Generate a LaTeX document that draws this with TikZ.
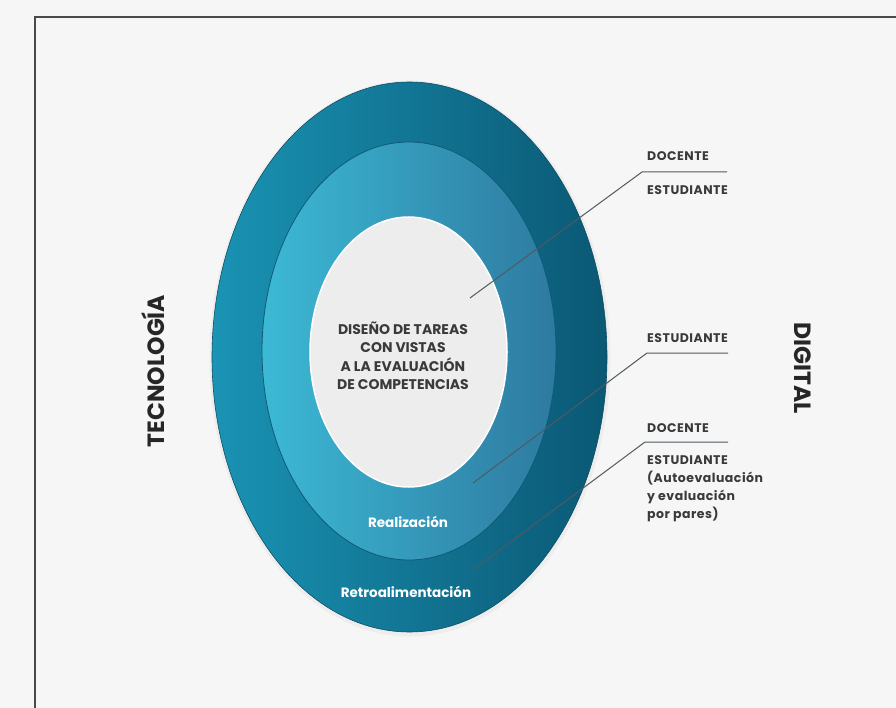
\documentclass[tikz,border=0pt]{standalone}
\usepackage{fontspec}
\setmainfont{Poppins}
\newfontfamily\lblfont{Poppins}[LetterSpace=4]
\usetikzlibrary{shapes.geometric}
\definecolor{bg}{HTML}{F6F6F6}
\definecolor{framec}{HTML}{4A4A4A}
\definecolor{outL}{HTML}{1A93B4}
\definecolor{outR}{HTML}{0A5874}
\definecolor{outE}{HTML}{0C4F66}
\definecolor{midL}{HTML}{3CB9D5}
\definecolor{midR}{HTML}{2E7AA0}
\definecolor{midE}{HTML}{105A74}
\definecolor{innerc}{HTML}{EDEDED}
\definecolor{txt}{HTML}{3A3A3A}
\definecolor{leadc}{HTML}{4F5A62}
\begin{document}
\begin{tikzpicture}[x=1pt,y=-1pt,
  ring/.style={ellipse, inner sep=0pt},
  lbl/.style={font=\lblfont\fontsize{12.5}{14}\selectfont\bfseries, text=txt, anchor=west, inner sep=0pt},
  lbls/.style={font=\lblfont\fontsize{12.5}{18}\selectfont\bfseries, text=txt, anchor=north west, inner sep=0pt, align=left},
  lead/.style={draw=leadc, line width=1pt},
  ringtxt/.style={font=\fontsize{13.5}{15}\selectfont\bfseries, text=white, inner sep=0pt},
  side/.style={font=\fontsize{23.5}{26}\selectfont\bfseries, text=black!85, inner sep=0pt}]
\fill[bg] (0,0) rectangle (896,708);
\useasboundingbox (0,0) rectangle (896,708);
\draw[framec, line width=2pt] (896,17) -- (35,17) -- (35,708);
% soft shadow
\node[ring, minimum width=401pt, minimum height=556pt, fill=black, opacity=0.035] (glow) at (410,358.5) {};
\node[ring, minimum width=395pt, minimum height=550pt, left color=outL, right color=outR, draw=outE, line width=0.6pt] (outer) at (409.5,357) {};
\node[ring, minimum width=294pt, minimum height=418pt, left color=midL, right color=midR, draw=midE, line width=0.8pt] (middle) at (409,351) {};
\node[ring, minimum width=197pt, minimum height=270pt, fill=innerc, draw=white, line width=1.5pt] (inner) at (408.5,352) {};
\node[font=\fontsize{14}{18.5}\selectfont\bfseries, text=txt, align=center, inner sep=0pt] (core) at (403,356) {DISEÑO DE TAREAS\\CON VISTAS\\A LA EVALUACIÓN\\DE COMPETENCIAS};
\node[ringtxt] (real) at (408,522) {Realización};
\node[ringtxt] (retro) at (406,592) {Retroalimentación};
\node[side, rotate=90] (tec) at (153,371) {TECNOLOGÍA};
\node[side, rotate=-90] (dig) at (803,368) {DIGITAL};
% leader 1
\coordinate (a1) at (470,298);
\coordinate (c1) at (642,172);
\coordinate (e1) at (727,172);
\draw[lead] (a1) -- (c1) -- (e1);
\node[lbl] (d1) at (647,156) {DOCENTE};
\node[lbl] (s1) at (647,190) {ESTUDIANTE};
% leader 2
\coordinate (a2) at (473,483);
\coordinate (c2) at (647,353);
\coordinate (e2) at (728,353);
\draw[lead] (a2) -- (c2) -- (e2);
\node[lbl] (s2) at (647,338) {ESTUDIANTE};
% leader 3
\coordinate (a3) at (473,570);
\coordinate (c3) at (645,442);
\coordinate (e3) at (728,442);
\draw[lead] (a3) -- (c3) -- (e3);
\node[lbl] (d3) at (647,428) {DOCENTE};
\node[lbls] (s3) at (647,455) {ESTUDIANTE\\(Autoevaluación\\y evaluación\\por pares)};
\end{tikzpicture}
\end{document}
